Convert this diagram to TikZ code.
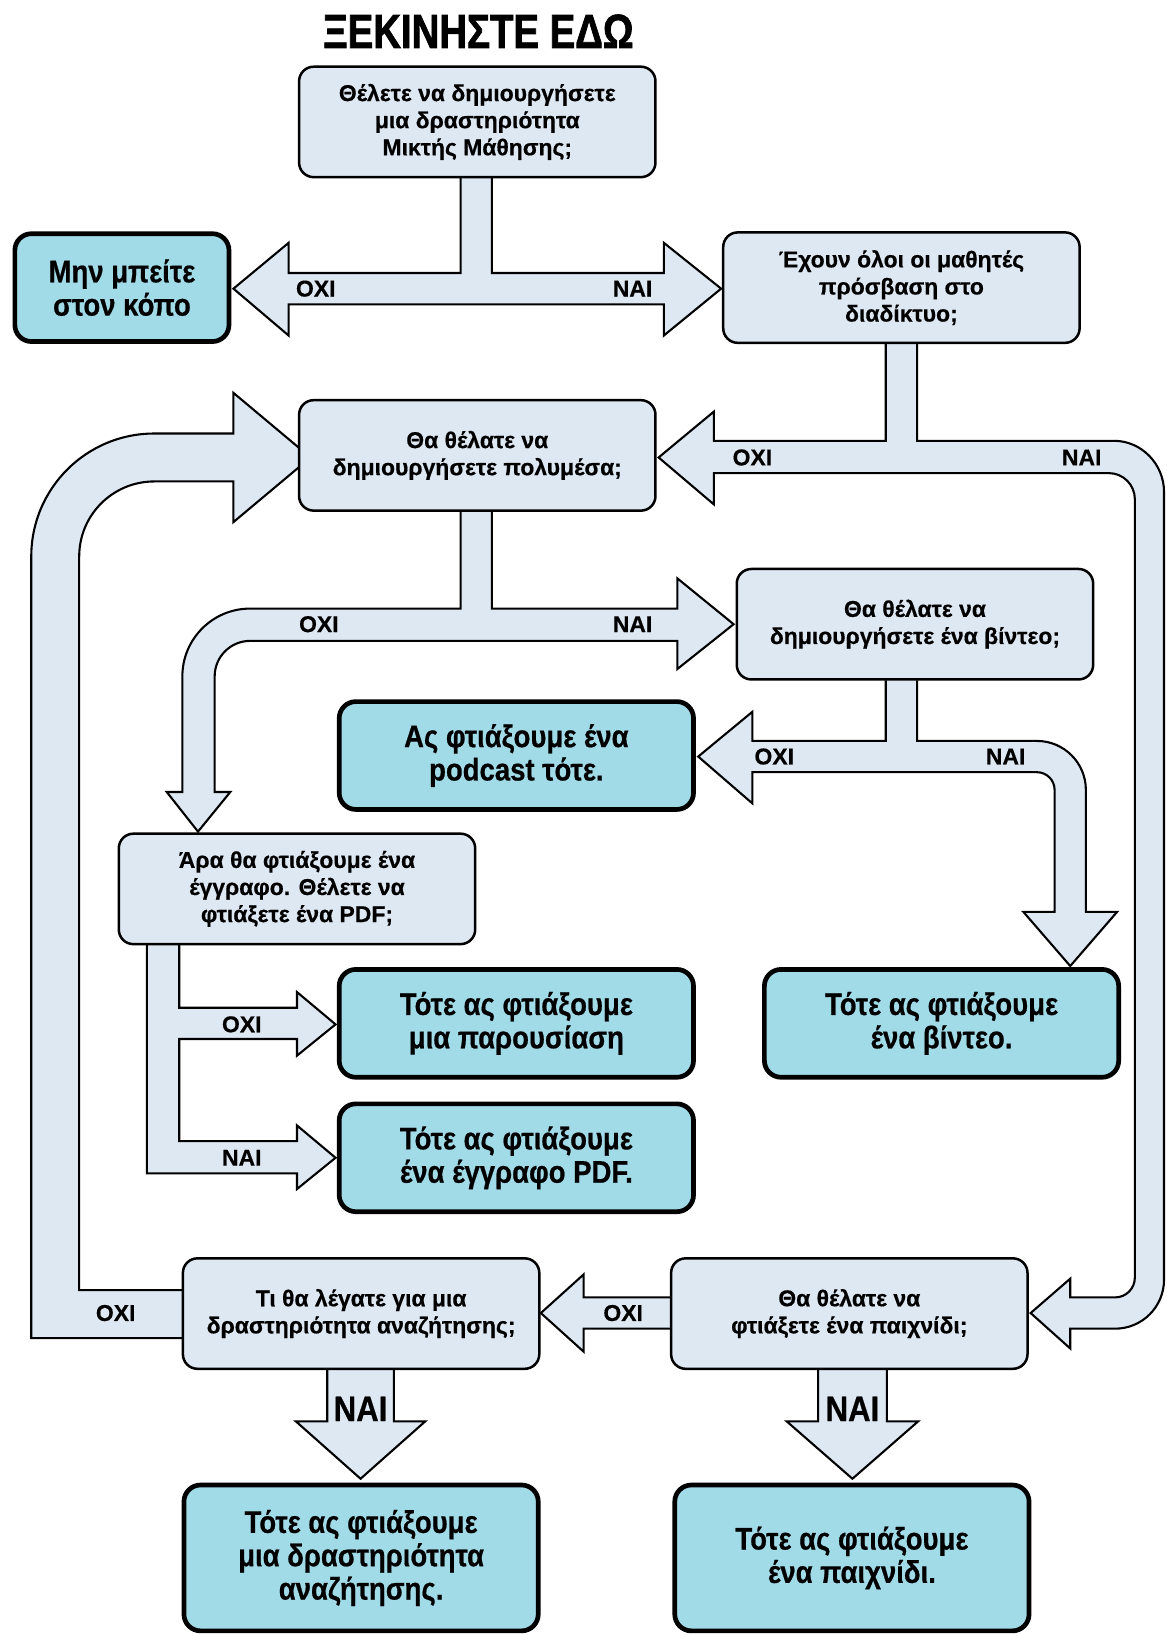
\documentclass[tikz,border=0pt]{standalone}
\usepackage{fontspec}
\setmainfont{Liberation Sans}[BoldFeatures={FakeBold=0.5}]
\newfontfamily\condfont{Liberation Sans}[FakeStretch=0.88, BoldFeatures={FakeBold=0.6}]
\newfontfamily\titlefont{Liberation Sans}[FakeStretch=0.8, BoldFeatures={FakeBold=1.5}]
\definecolor{lightbox}{HTML}{DEE8F3}
\definecolor{darkbox}{HTML}{A2DBE8}
\tikzset{
  qbox/.style={draw, line width=2.4pt, fill=lightbox, rounded corners=14pt,
    minimum width=342pt, minimum height=106pt, align=center, inner sep=0pt,
    font=\bfseries\fontsize{22}{26}\selectfont},
  rbox/.style={draw, line width=4.5pt, fill=darkbox, rounded corners=16pt,
    minimum width=340pt, minimum height=103.5pt, align=center, inner sep=0pt,
    font=\condfont\bfseries\fontsize{30}{32}\selectfont},
  lab/.style={font=\bfseries\fontsize{22}{22}\selectfont, inner sep=0pt},
  biglab/.style={font=\condfont\bfseries\fontsize{34}{34}\selectfont, inner sep=0pt},
  arr/.style={draw, fill=lightbox, line width=2pt, line join=miter}
}
\begin{document}
\begin{tikzpicture}[x=1pt, y=-1pt]
\fill[white] (0,0) rectangle (1119,1568);
\useasboundingbox (0,0) rectangle (1119,1568);

% ---------- fat arrows ----------
% start -> no / yes
\draw[arr] (442,171) -- (442,262) -- (277,262) -- (277,233) -- (224,277) -- (277,322)
  -- (277,292) -- (637,292) -- (637,322) -- (692,277) -- (637,233) -- (637,262)
  -- (472,262) -- (472,171);
% internet -> multimedia / game
\draw[arr] (850,330) -- (850,423) -- (685,423) -- (685,395) -- (632,439) -- (685,484)
  -- (685,454) -- (1064,454) .. controls (1077.8,454) and (1089,465.2) .. (1089,479)
  -- (1089,1226) .. controls (1089,1236.5) and (1080.5,1245) .. (1070,1245)
  -- (1027,1245) -- (1027,1227) -- (989,1260) -- (1027,1294) -- (1027,1275)
  -- (1070,1275) .. controls (1096,1275) and (1117,1254) .. (1117,1228)
  -- (1117,472) .. controls (1117,445.5) and (1095.5,423) .. (1069,423)
  -- (880,423) -- (880,330);
% search -> back to multimedia (loop)
\draw[arr] (175,1238) -- (76,1238) -- (76,534) .. controls (76,494.2) and (108.2,462) .. (148,462)
  -- (224,462) -- (224,501) -- (298,439) -- (224,377) -- (224,416) -- (148,416)
  .. controls (82.8,416) and (30,468.8) .. (30,534) -- (30,1284) -- (175,1284);
% multimedia -> document / video
\draw[arr] (442,491) -- (442,584) -- (240,584) .. controls (204.1,584) and (175,613.1) .. (175,649)
  -- (175,760) -- (160,760) -- (190,798) -- (221,760) -- (206,760) -- (206,649)
  .. controls (206,630.2) and (221.2,615) .. (240,615) -- (650,615) -- (650,642)
  -- (704,599) -- (650,555) -- (650,584) -- (472,584) -- (472,491);
% video -> podcast / video result
\draw[arr] (850,653) -- (850,711) -- (722,711) -- (722,683) -- (670,726) -- (722,771)
  -- (722,741) -- (995,741) .. controls (1004.4,741) and (1012,748.6) .. (1012,758)
  -- (1012,875) -- (982,875) -- (1027,927) -- (1072,875) -- (1042,875) -- (1042,758)
  .. controls (1042,732) and (1021,711) .. (995,711) -- (880,711) -- (880,653);
% document -> presentation / pdf
\draw[arr] (172,907) -- (172,967) -- (285,967) -- (285,952) -- (322,983) -- (285,1013)
  -- (285,997) -- (172,997) -- (172,1095) -- (285,1095) -- (285,1080) -- (322,1111)
  -- (285,1141) -- (285,1126) -- (141,1126) -- (141,907);
% game -> search
\draw[arr] (643,1245) -- (560,1245) -- (560,1223) -- (519,1260) -- (560,1297) -- (560,1275) -- (643,1275);
% search -> search result
\draw[arr] (314,1314) -- (314,1364) -- (284,1364) -- (346,1419) -- (408,1364) -- (378,1364) -- (378,1314);
% game -> game result
\draw[arr] (785,1314) -- (785,1364) -- (755,1364) -- (818,1419) -- (881,1364) -- (851,1364) -- (851,1314);

% ---------- title ----------
\node[inner sep=0pt, font=\titlefont\bfseries\fontsize{46}{46}\selectfont] (title) at (459,30) {ΞΕΚΙΝΗΣΤΕ ΕΔΩ};

% ---------- boxes ----------
\node[qbox] (start) at (458,117) {Θέλετε να δημιουργήσετε\\μια δραστηριότητα\\Μικτής Μάθησης;};
\node[rbox, minimum width=205.5pt] (nope) at (117,276) {Μην μπείτε\\στον κόπο};
\node[qbox] (internet) at (865,276) {Έχουν όλοι οι μαθητές\\πρόσβαση στο\\διαδίκτυο;};
\node[qbox] (multi) at (458,437) {Θα θέλατε να\\δημιουργήσετε πολυμέσα;};
\node[qbox] (video) at (878,599) {Θα θέλατε να\\δημιουργήσετε ένα βίντεο;};
\node[rbox] (podcast) at (495.5,725) {Ας φτιάξουμε ένα\\podcast τότε.};
\node[qbox] (doc) at (285,853) {Άρα θα φτιάξουμε ένα\\έγγραφο. Θέλετε να\\φτιάξετε ένα PDF;};
\node[rbox] (pres) at (495.5,982) {Τότε ας φτιάξουμε\\μια παρουσίαση};
\node[rbox] (pdf) at (495.5,1111) {Τότε ας φτιάξουμε\\ένα έγγραφο PDF.};
\node[rbox] (vidres) at (903.5,982) {Τότε ας φτιάξουμε\\ένα βίντεο.};
\node[qbox] (search) at (346.5,1260.5) {Τι θα λέγατε για μια\\δραστηριότητα αναζήτησης;};
\node[qbox] (game) at (815,1260.5) {Θα θέλατε να\\φτιάξετε ένα παιχνίδι;};
\node[rbox, minimum height=140pt] (searchres) at (346.5,1495) {Τότε ας φτιάξουμε\\μια δραστηριότητα\\αναζήτησης.};
\node[rbox, minimum height=140pt] (gameres) at (817.5,1495) {Τότε ας φτιάξουμε\\ένα παιχνίδι.};

% ---------- labels ----------
\node[lab] (l1) at (303,277) {ΟΧΙ};
\node[lab] (l2) at (607,277) {ΝΑΙ};
\node[lab] (l3) at (722,439) {ΟΧΙ};
\node[lab] (l4) at (1038,439) {ΝΑΙ};
\node[lab] (l5) at (306,599) {ΟΧΙ};
\node[lab] (l6) at (607,599) {ΝΑΙ};
\node[lab] (l7) at (743,726) {ΟΧΙ};
\node[lab] (l8) at (965,726) {ΝΑΙ};
\node[lab] (l9) at (232,983) {ΟΧΙ};
\node[lab] (l10) at (232,1111) {ΝΑΙ};
\node[lab] (l11) at (111,1260) {ΟΧΙ};
\node[lab] (l12) at (598,1260) {ΟΧΙ};
\node[biglab] (l13) at (346,1352) {ΝΑΙ};
\node[biglab] (l14) at (818,1352) {ΝΑΙ};
\end{tikzpicture}
\end{document}
